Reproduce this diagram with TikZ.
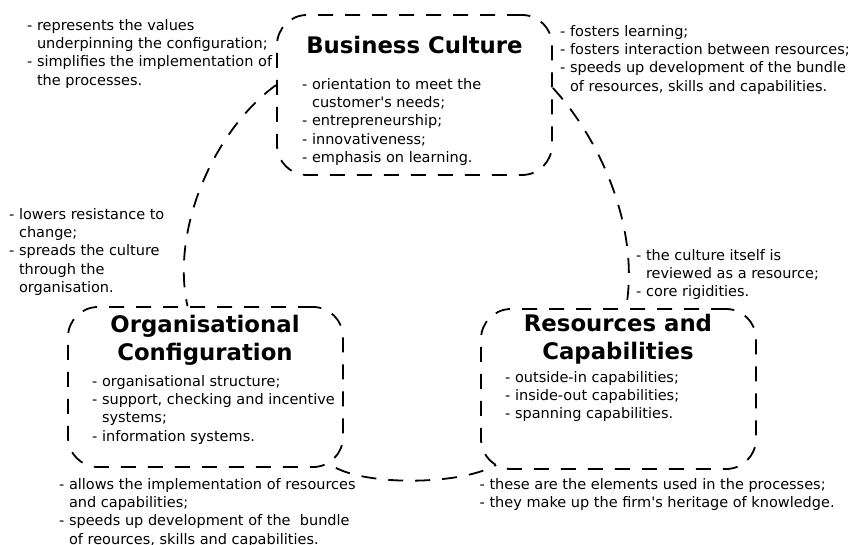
\documentclass[tikz,border=0pt]{standalone}
\usepackage{fontspec}
\setmainfont{DejaVu Sans}
\newcommand\notesize{\fontsize{14.5}{18.3}\selectfont}
\newcommand\headsize{\bfseries\fontsize{22.8}{28}\selectfont}
\newcommand\hang{\phantom{- }}
\tikzset{
  dashline/.style={line width=1.8pt, dash pattern=on 15pt off 12pt},
  blockbox/.style={draw, dashline, rounded corners=30pt, minimum width=275pt, minimum height=160pt, inner sep=0pt},
  heading/.style={align=center, anchor=north, inner sep=0pt, font=\headsize},
  note/.style={align=left, anchor=north west, inner sep=0pt, font=\notesize},
}
\begin{document}
\begin{tikzpicture}[x=1pt, y=-1pt]
\useasboundingbox (0,0) rectangle (854,545);
% blocks
\node[blockbox] (bc) at (414.5,95) {};
\node[blockbox] (oc) at (205.5,387) {};
\node[blockbox] (rc) at (618.5,389) {};
% headings
\node[heading] (bctitle) at (414.5,35.7) {Business Culture};
\node[heading] (octitle) at (205,314.7) {Organisational\\Configuration};
\node[heading] (rctitle) at (618,313.7) {Resources and\\Capabilities};
% contents of the blocks
\node[note] (bclist) at (302,78) {- orientation to meet the\\\hang customer\textquotesingle s needs;\\- entrepreneurship;\\- innovativeness;\\- emphasis on learning.};
\node[note] (oclist) at (92,375) {- organisational structure;\\- support, checking and incentive\\\hang systems;\\- information systems.};
\node[note] (rclist) at (505,371) {- outside-in capabilities;\\- inside-out capabilities;\\- spanning capabilities.};
% notes on the links
\node[note] (tlnote) at (27,19) {- represents the values\\\hang underpinning the configuration;\\- simplifies the implementation of\\\hang the processes.};
\node[note] (trnote) at (560,25) {- fosters learning;\\- fosters interaction between resources;\\- speeds up development of the bundle\\\hang of resources, skills and capabilities.};
\node[note] (lmnote) at (9,208) {- lowers resistance to\\\hang change;\\- spreads the culture\\\hang through the\\\hang organisation.};
\node[note] (rmnote) at (636,249) {- the culture itself is\\\hang reviewed as a resource;\\- core rigidities.};
\node[note] (blnote) at (59,478) {- allows the implementation of resources\\\hang and capabilities;\\- speeds up development of the \ bundle\\\hang of reources, skills and capabilities.};
\node[note] (brnote) at (479.5,478) {- these are the elements used in the processes;\\- they make up the firm\textquotesingle s heritage of knowledge.};
% links
\draw[dashline] ([yshift=10pt]bc.west) .. controls +(-62,45) and +(-17,-77) .. ([xshift=-18pt]oc.north);
\draw[dashline] ([yshift=7pt]bc.east) .. controls +(48,52) and +(14,-79) .. ([xshift=7.5pt]rc.north);
\draw[dashline] ([xshift=-8pt]oc.south east) .. controls +(35,18) and +(-35,20) .. ([xshift=16pt,yshift=5pt]rc.south west);
\end{tikzpicture}
\end{document}
